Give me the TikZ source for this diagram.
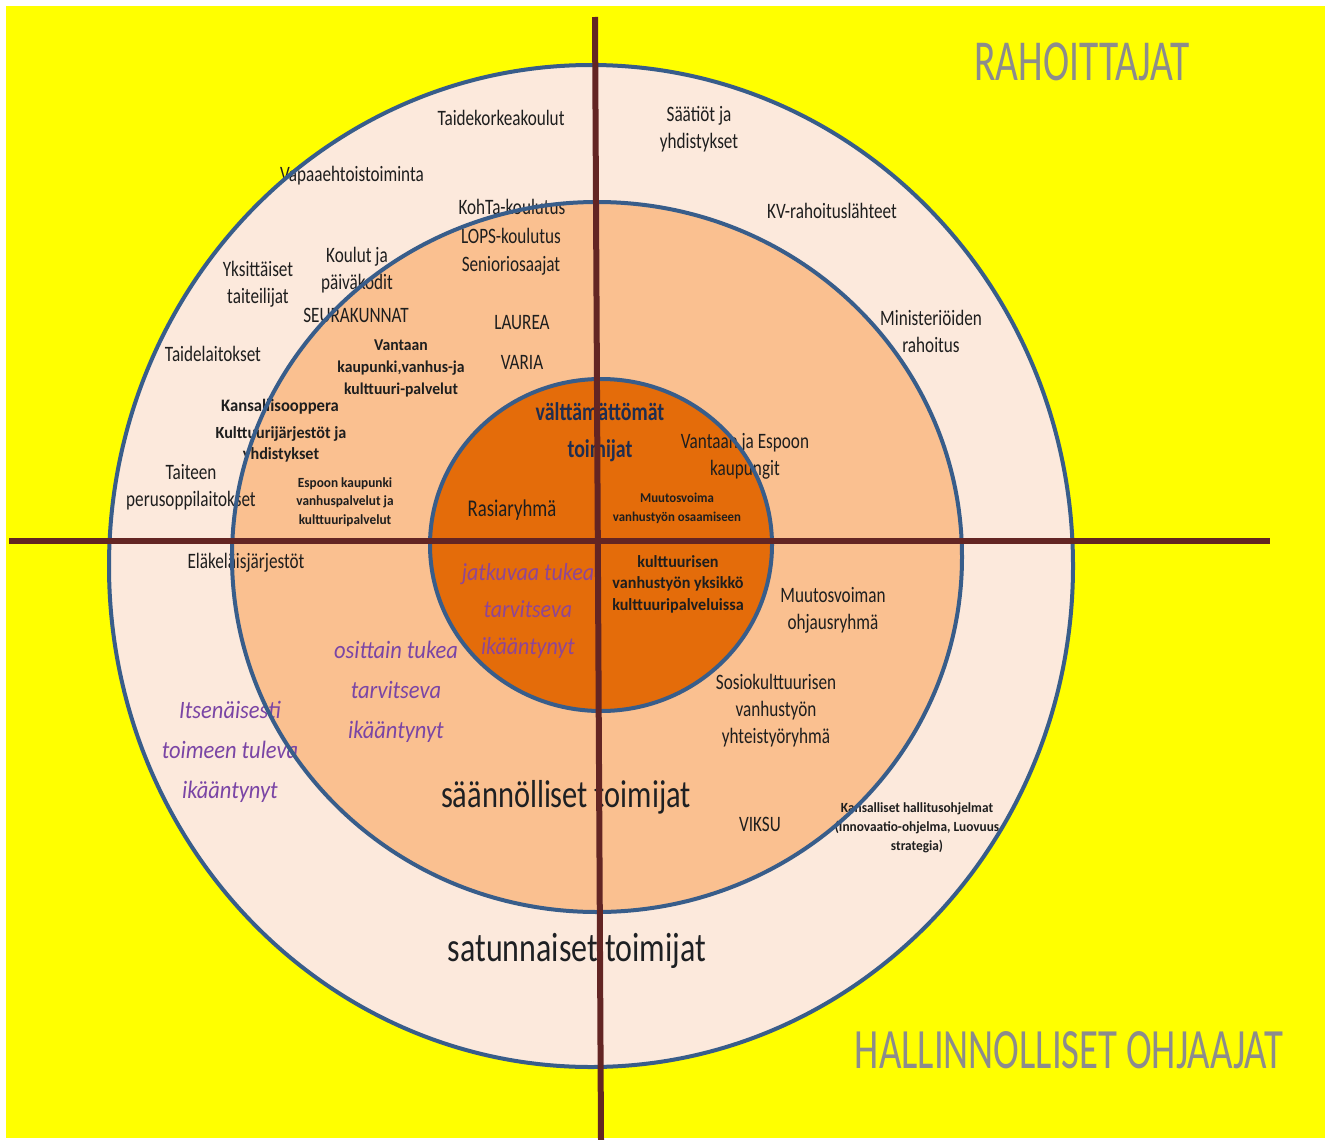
\documentclass[tikz,border=0pt]{standalone}
\usepackage{fontspec}
\setmainfont{Carlito}
\newfontfamily\nf{Carlito}[FakeStretch=0.78]
\newfontfamily\wf{Carlito}[FakeStretch=0.95]
\newfontfamily\itf{Carlito}[FakeStretch=0.9]
\newfontfamily\ttlf{Carlito}[FakeStretch=0.68]
\definecolor{bgyellow}{RGB}{255,255,0}
\definecolor{ringout}{RGB}{252,233,220}
\definecolor{ringmid}{RGB}{250,192,144}
\definecolor{ringin}{RGB}{228,108,10}
\definecolor{ringedge}{RGB}{56,93,138}
\definecolor{axis}{RGB}{99,37,35}
\definecolor{txt}{RGB}{30,30,30}
\definecolor{navy}{RGB}{31,45,80}
\definecolor{purp}{RGB}{122,69,165}
\definecolor{purpin}{RGB}{142,70,150}
\definecolor{greyt}{RGB}{140,140,140}
\tikzset{
  lbl/.style={inner sep=0pt, align=center, text=txt, font=\nf\fontsize{22}{27}\selectfont},
  sb/.style n args={2}{inner sep=0pt, align=center, text=txt, font=\wf\bfseries\fontsize{#1}{#2}\selectfont},
  itl/.style={inner sep=0pt, align=center, text=purp, font=\itf\itshape\fontsize{25}{40}\selectfont},
  big/.style={inner sep=0pt, text=txt!90!navy, font=\nf\fontsize{#1}{#1}\selectfont},
  ttl/.style={inner sep=0pt, text=greyt, font=\ttlf\fontsize{#1}{#1}\selectfont},
  ring/.style={draw=ringedge, line width=4pt},
  axisline/.style={draw=axis, line width=6.5pt}
}
\begin{document}
\begin{tikzpicture}[x=1pt,y=-1pt]
\useasboundingbox (0,0) rectangle (1330,1140);
\fill[white] (0,0) rectangle (1330,1140);
\fill[bgyellow] (6,6) rectangle (1325,1138);
% ring fills
\fill[ringout] (591,566) ellipse [x radius=482pt, y radius=501pt];
\fill[ringmid] (597,557) ellipse [x radius=365pt, y radius=355pt];
\fill[ringin] (601,545) ellipse [x radius=171pt, y radius=166pt];

% outer ring labels
\node[lbl] (taidekork) at (501,118) {Taidekorkeakoulut};
\node[lbl] (saatiot) at (699,129) {Säätiöt ja\\yhdistykset};
\node[lbl] (vapaa) at (352,176) {Vapaaehtoistoiminta};
\node[lbl] (kv) at (832,211) {KV-rahoituslähteet};
\node[lbl] (yksitt) at (258,284) {Yksittäiset\\taiteilijat};
\node[lbl] (minist) at (931,331) {Ministeriöiden\\rahoitus};
\node[lbl] (taidel) at (213,354) {Taidelaitokset};
\node[sb={17.5}{22}] (kansoop) at (280,407) {Kansallisooppera};
\node[sb={17}{21}] (kultjarj) at (281,444) {Kulttuurijärjestöt ja\\yhdistykset};
\node[lbl] (taiteen) at (191,487) {Taiteen\\perusoppilaitokset};
\node[lbl] (elak) at (246,563) {Eläkeläisjärjestöt};
\node[itl] (itsen) at (230,752) {Itsenäisesti\\toimeen tuleva\\ikääntynyt};
\node[big=41] (satunn) at (577,951) {satunnaiset toimijat};
\node[sb={14}{19}] (kansall) at (917,828) {Kansalliset hallitusohjelmat\\(Innovaatio-ohjelma, Luovuus\\strategia)};

% middle ring labels
\node[lbl] (kohta) at (512,207) {KohTa-koulutus};
\node[lbl] (lops) at (511,236) {LOPS-koulutus};
\node[lbl] (senior) at (511,266) {Senioriosaajat};
\node[lbl] (koulut) at (357,270) {Koulut ja\\päiväkodit};
\node[lbl] (seura) at (356,315) {SEURAKUNNAT};
\node[lbl] (laurea) at (522,323) {LAUREA};
\node[lbl] (varia) at (522,362) {VARIA};
\node[sb={16.5}{22}] (vantaa) at (401,368) {Vantaan\\kaupunki,vanhus-ja\\kulttuuri-palvelut};
\node[sb={14}{18.5}] (espoo) at (345,502) {Espoon kaupunki\\vanhuspalvelut ja\\kulttuuripalvelut};
\node[lbl] (muutosohj) at (833,610) {Muutosvoiman\\ohjausryhmä};
\node[lbl] (sosio) at (776,711) {Sosiokulttuurisen\\vanhustyön\\yhteistyöryhmä};
\node[lbl] (viksu) at (760,824) {VIKSU};
\node[itl] (osit) at (396,692) {osittain tukea\\tarvitseva\\ikääntynyt};
\node[big=39] (saann) at (566,797) {säännölliset toimijat};

% inner circle labels
\node[inner sep=0pt, align=center, text=navy, font=\nf\bfseries\fontsize{25.5}{37}\selectfont] (valtt) at (600,432) {välttämättömät\\toimijat};
\node[lbl] (vantesp) at (745,456) {Vantaan ja Espoon\\kaupungit};
\node[lbl, font=\nf\fontsize{24}{27}\selectfont] (rasia) at (512,510) {Rasiaryhmä};
\node[sb={13.5}{19}] (muutosv) at (677,508) {Muutosvoima\\vanhustyön osaamiseen};
\node[sb={17}{21.5}] (kultyks) at (678,584) {kulttuurisen\\vanhustyön yksikkö\\kulttuuripalveluissa};
\node[itl, text=purpin, font=\itf\itshape\fontsize{24.5}{37}\selectfont] (jatk) at (528,611) {jatkuvaa tukea\\tarvitseva\\ikääntynyt};

% titles
\node[ttl=58] (rah) at (1082,62) {RAHOITTAJAT};
\node[ttl=57] (hall) at (1069,1050) {HALLINNOLLISET OHJAAJAT};

% ring borders
\draw[ring] (591,566) ellipse [x radius=482pt, y radius=501pt];
\draw[ring] (597,557) ellipse [x radius=365pt, y radius=355pt];
\draw[ring] (601,545) ellipse [x radius=171pt, y radius=166pt];

% axes
\coordinate (vtop) at (595,17);
\coordinate (vbot) at (601,1140);
\coordinate (hleft) at (9,541);
\coordinate (hright) at (1270,541);
\draw[axisline] (hleft) -- (hright);
\draw[axisline, line width=6pt] (vtop) -- (vbot);
\end{tikzpicture}
\end{document}
